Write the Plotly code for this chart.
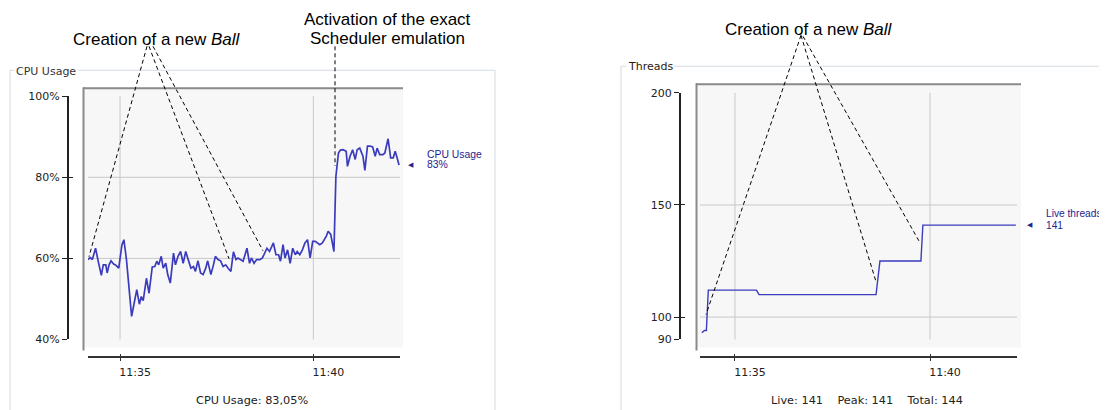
import plotly.graph_objects as go

# ---------------- data ----------------
DAY = "2013-01-01 "

cpu_times = ["11:34:10","11:34:14","11:34:17","11:34:22","11:34:26","11:34:31","11:34:34","11:34:38","11:34:40","11:34:43",
             "11:34:46","11:34:50","11:34:53","11:34:58","11:35:03","11:35:06","11:35:10","11:35:14","11:35:18","11:35:22",
             "11:35:26","11:35:30","11:35:33","11:35:36","11:35:41","11:35:45","11:35:50","11:35:54","11:35:57","11:36:00",
             "11:36:04","11:36:07","11:36:11","11:36:14","11:36:18","11:36:23","11:36:26","11:36:30","11:36:34","11:36:38",
             "11:36:42","11:36:45","11:36:50","11:36:54","11:36:57","11:37:01","11:37:05","11:37:09","11:37:13","11:37:16",
             "11:37:21","11:37:25","11:37:28","11:37:32","11:37:36","11:37:40","11:37:44","11:37:48","11:37:52","11:37:56",
             "11:38:00","11:38:03","11:38:07","11:38:11","11:38:17","11:38:21","11:38:24","11:38:28","11:38:32","11:38:37",
             "11:38:41","11:38:45","11:38:48","11:38:52","11:38:55","11:38:58","11:39:02","11:39:06","11:39:09","11:39:13",
             "11:39:16","11:39:20","11:39:24","11:39:28","11:39:32","11:39:35","11:39:39","11:39:43","11:39:47","11:39:51",
             "11:39:55","11:39:59","11:40:03","11:40:06","11:40:10","11:40:14","11:40:20","11:40:23","11:40:27","11:40:32",
             "11:40:35","11:40:39","11:40:42","11:40:46","11:40:51","11:40:53","11:40:57","11:41:01","11:41:05","11:41:08",
             "11:41:12","11:41:17","11:41:20","11:41:24","11:41:28","11:41:32","11:41:36","11:41:39","11:41:43","11:41:48",
             "11:41:51","11:41:56","11:42:00","11:42:04","11:42:07","11:42:10","11:42:13"]
cpu_values = [59.7,60.2,59.7,62.5,59.4,55.8,58.4,58.4,56.4,58.4,
              59.4,58.6,58.4,57.6,63.4,64.6,59.7,51.9,45.7,49.0,
              52.3,48.7,50.6,49.6,55.1,51.4,57.9,58.0,59.3,58.4,
              60.5,57.6,58.8,56.0,53.9,61.3,58.4,60.5,61.7,58.8,
              61.7,60.1,57.6,58.0,56.8,59.4,56.4,56.0,57.6,59.4,
              56.0,58.4,60.5,59.7,59.4,58.0,58.4,57.5,56.8,61.6,
              59.7,60.1,59.7,59.3,62.5,58.8,60.1,58.8,59.7,59.7,
              60.1,61.3,62.5,61.7,63.0,63.8,60.9,60.9,59.3,63.4,
              60.1,62.1,58.8,62.5,60.9,61.7,60.9,62.1,63.8,64.6,
              60.1,64.2,64.2,63.8,63.4,63.8,65.4,66.7,65.9,61.7,
              80.2,86.0,86.7,86.8,86.4,82.7,85.2,86.8,84.4,86.8,
              87.2,85.2,81.7,87.7,87.7,87.5,85.2,87.2,85.6,85.6,
              86.0,89.5,84.8,84.8,86.4,84.8,83.05]
assert len(cpu_times) == len(cpu_values)

thr_times = ["11:34:09","11:34:13","11:34:16","11:34:19","11:35:33","11:35:37",
             "11:38:37","11:38:43","11:39:46","11:39:49","11:42:12"]
thr_values = [93, 94, 94, 112, 112, 110, 110, 125, 125, 141, 141]
thr_total = 144

cpu_ticks = [40, 60, 80, 100]
cpu_ticktext = ["40%", "60%", "80%", "100%"]
cpu_grid = [60, 80]
thr_ticks = [90, 100, 150, 200]
thr_grid = [100, 150]
time_ticks = ["11:35:00", "11:40:00"]
time_ticktext = ["11:35", "11:40"]

# ---------------- layout helpers ----------------
W, H = 1107, 410
OFF_X = 8            # page offset of the figure (body margin)
OFF_Y, SY = 12.6, 0.971   # measured vertical placement of the figure in the photographed page
def X(px): return (px - OFF_X) / W
def Y(py): return 1 - ((py - OFF_Y) / SY) / H

UI_FONT = "DejaVu Sans"
LEG_FONT = "Liberation Sans, Arial, sans-serif"
NOTE_FONT = "Liberation Sans, Arial, sans-serif"
LINE_COLOR = "#3b3bbd"
LEG_COLOR = "#24248f"
GRID = "#c8c8c8"

cpu_range_x = [DAY + "11:34:10.3", DAY + "11:42:14.5"]
thr_range_x = [DAY + "11:34:06.2", DAY + "11:42:13.8"]
cpu_dom_x, cpu_dom_y = [X(88), X(400)], [Y(339), Y(95)]
thr_dom_x, thr_dom_y = [X(700), X(1017)], [Y(339), Y(91.7)]

fig = go.Figure()
fig.add_trace(go.Scatter(x=[DAY + t for t in cpu_times], y=cpu_values, mode="lines",
                         line=dict(color=LINE_COLOR, width=1.7), xaxis="x", yaxis="y",
                         hoverinfo="skip"))
fig.add_trace(go.Scatter(x=[DAY + t for t in thr_times], y=thr_values, mode="lines",
                         line=dict(color=LINE_COLOR, width=1.4), xaxis="x2", yaxis="y2",
                         hoverinfo="skip"))
# empty traces that only carry the inner halves of the crossing tick marks
fig.add_trace(go.Scatter(x=[], y=[], xaxis="x3", yaxis="y3", hoverinfo="skip"))
fig.add_trace(go.Scatter(x=[], y=[], xaxis="x4", yaxis="y4", hoverinfo="skip"))

tickfont = dict(family=UI_FONT, size=11, color="#222")
common_x = dict(type="date", anchor="free", position=Y(357), showline=True, linecolor="#333",
                linewidth=2, ticks="outside", ticklen=3, tickwidth=1, tickcolor="#333",
                showgrid=False, zeroline=False, tickfont=tickfont, ticklabelshift=15,
                ticklabelstandoff=1,
                tickvals=[DAY + t for t in time_ticks], ticktext=time_ticktext, fixedrange=True)
common_y = dict(anchor="free", showline=True, linecolor="#222", linewidth=2, ticks="outside",
                ticklen=5, tickwidth=1, tickcolor="#222", showgrid=False, zeroline=False,
                tickfont=tickfont, fixedrange=True)
inner_x = dict(type="date", anchor="free", position=Y(357), showline=False, ticks="inside",
               ticklen=3, tickwidth=1, tickcolor="#333", showgrid=False, zeroline=False,
               showticklabels=False, tickvals=[DAY + t for t in time_ticks], fixedrange=True)
inner_y = dict(anchor="free", showline=False, ticks="inside", ticklen=4, tickwidth=1,
               tickcolor="#222", showgrid=False, zeroline=False, showticklabels=False,
               fixedrange=True)

fig.update_layout(
    width=W, height=H, margin=dict(l=0, r=0, t=0, b=0), autosize=False,
    paper_bgcolor="white", plot_bgcolor="rgba(0,0,0,0)", showlegend=False,
    xaxis=dict(common_x, domain=cpu_dom_x, range=cpu_range_x),
    yaxis=dict(common_y, domain=cpu_dom_y, position=X(68), range=[40, 100],
               tickvals=cpu_ticks, ticktext=cpu_ticktext),
    xaxis2=dict(common_x, domain=thr_dom_x, range=thr_range_x),
    yaxis2=dict(common_y, domain=thr_dom_y, position=X(680), range=[90, 200],
                tickvals=thr_ticks, ticktext=[str(v) for v in thr_ticks]),
    xaxis3=dict(inner_x, domain=cpu_dom_x, range=cpu_range_x),
    yaxis3=dict(inner_y, domain=cpu_dom_y, position=X(68), range=[40, 100], tickvals=cpu_ticks),
    xaxis4=dict(inner_x, domain=thr_dom_x, range=thr_range_x),
    yaxis4=dict(inner_y, domain=thr_dom_y, position=X(680), range=[90, 200], tickvals=thr_ticks),
)

shapes = []
# group boxes
shapes.append(dict(type="rect", xref="paper", yref="paper", x0=X(10), x1=X(495), y0=Y(440), y1=Y(69),
                   line=dict(color="#d3dbe3", width=1), layer="below"))
shapes.append(dict(type="rect", xref="paper", yref="paper", x0=X(621), x1=X(1130), y0=Y(440), y1=Y(65),
                   line=dict(color="#d3dbe3", width=1), layer="below"))
# plot backgrounds and frame edges
for (l, r, t, b) in [(83, 403, 86, 347), (696, 1021, 82, 347)]:
    shapes.append(dict(type="rect", xref="paper", yref="paper", x0=X(l), x1=X(r), y0=Y(b), y1=Y(t),
                       fillcolor="#f7f7f7", line=dict(width=0), layer="below"))
    shapes.append(dict(type="line", xref="paper", yref="paper", x0=X(l), x1=X(r), y0=Y(t + 1), y1=Y(t + 1),
                       line=dict(color="#8a8a8a", width=2), layer="below"))
    shapes.append(dict(type="line", xref="paper", yref="paper", x0=X(l + 0.5), x1=X(l + 0.5), y0=Y(b + 3), y1=Y(t),
                       line=dict(color="#8a8a8a", width=2), layer="below"))
# grid lines
for v in cpu_grid:
    shapes.append(dict(type="line", xref="x domain", yref="y", x0=0, x1=1, y0=v, y1=v,
                       line=dict(color=GRID, width=1), layer="below"))
for v in thr_grid:
    shapes.append(dict(type="line", xref="x2 domain", yref="y2", x0=0, x1=1, y0=v, y1=v,
                       line=dict(color=GRID, width=1), layer="below"))
for t in time_ticks:
    shapes.append(dict(type="line", xref="x", yref="y domain", x0=DAY + t, x1=DAY + t, y0=0, y1=1,
                       line=dict(color=GRID, width=1), layer="below"))
    shapes.append(dict(type="line", xref="x2", yref="y2 domain", x0=DAY + t, x1=DAY + t, y0=0, y1=1,
                       line=dict(color=GRID, width=1), layer="below"))
# dashed leader lines of the notes
leaders = [((147, 45), (89, 256)), ((149, 45), (229, 258)), ((153, 45), (263, 250)),
           ((335, 45), (335, 165)),
           ((801, 34), (706, 314)), ((801, 34), (876, 281)), ((803, 35), (920, 242))]
for (a, b) in leaders:
    shapes.append(dict(type="line", xref="paper", yref="paper", x0=X(a[0]), y0=Y(a[1]), x1=X(b[0]), y1=Y(b[1]),
                       line=dict(color="black", width=1, dash="4px,3px"), layer="above"))
fig.update_layout(shapes=shapes)

ann = []
def text(s, px, py, size=11, color="#222", family=UI_FONT, xanchor="center", bg=None, yref="paper", yval=None):
    d = dict(text=s, xref="paper", yref=yref, x=X(px), y=(Y(py) if yval is None else yval),
             xanchor=xanchor, yanchor="middle", showarrow=False,
             font=dict(family=family, size=size, color=color))
    if bg:
        d["bgcolor"] = bg
        d["borderpad"] = 1
    ann.append(d)

text("CPU Usage", 14, 70, size=11, color="#333", xanchor="left", bg="white")
text("Threads", 626, 65, size=11, color="#2a1a10", xanchor="left", bg="white")
text("Creation of a new <i>Ball</i>", 157, 38, size=17, color="black", family=NOTE_FONT)
text("Activation of the exact", 387, 18, size=17, color="black", family=NOTE_FONT)
text("Scheduler emulation", 387, 37, size=17, color="black", family=NOTE_FONT)
text("Creation of a new <i>Ball</i>", 809, 28, size=17, color="black", family=NOTE_FONT)

cpu_last = cpu_values[-1]
thr_last = thr_values[-1]
text("CPU Usage", 425, 153, size=10.4, color=LEG_COLOR, family=LEG_FONT, xanchor="left")
text("%d%%" % round(cpu_last), 425, 0, size=10.4, color=LEG_COLOR, family=LEG_FONT, xanchor="left",
     yref="y", yval=cpu_last)
text("\u25c0", 411, 0, size=7, color=LEG_COLOR, yref="y", yval=cpu_last)
text("Live threads", 1044, 213, size=10.2, color=LEG_COLOR, family=LEG_FONT, xanchor="left")
text(str(thr_last), 1044, 0, size=10.2, color=LEG_COLOR, family=LEG_FONT, xanchor="left",
     yref="y2", yval=thr_last)
text("\u25c0", 1030, 0, size=7, color=LEG_COLOR, yref="y2", yval=thr_last)

text("CPU Usage: " + ("%.2f" % cpu_last).replace(".", ",") + "%", 252, 400, size=11.3)
nb = "\u00a0" * 4
text("Live: %d%sPeak: %d%sTotal: %d" % (thr_last, nb, max(thr_values), nb, thr_total), 867, 400, size=11.3)
fig.update_layout(annotations=ann)

fig.write_html("out.html")
